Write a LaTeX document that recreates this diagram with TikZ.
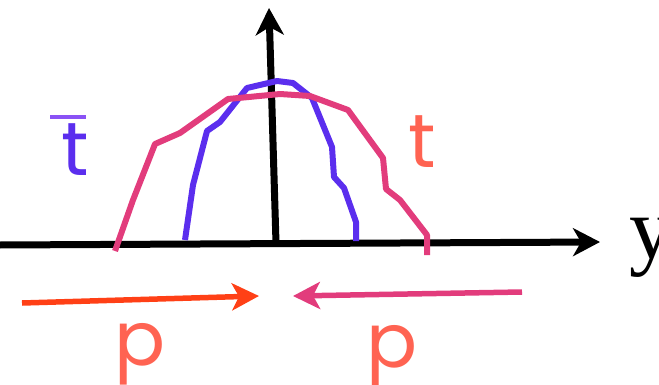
\documentclass[tikz,border=0pt]{standalone}
\usepackage{fontspec}
\setmainfont{Liberation Serif}
\newfontfamily\labelfont{Poppins}
\usetikzlibrary{arrows.meta}

\definecolor{tbarblue}{HTML}{5B2EEE}
\definecolor{tbarlight}{HTML}{8A52F5}
\definecolor{tpink}{HTML}{E23C7C}
\definecolor{tcoral}{HTML}{FF6352}
\definecolor{pred}{HTML}{FF4016}

\begin{document}
\begin{tikzpicture}[
  x=0.02cm, y=-0.02cm,
  axis/.style={line width=0.14cm, -{Stealth[length=0.54cm, width=0.56cm, inset=0.16cm]}},
  curve/.style={line width=0.12cm, line join=round},
  mom/.style={line width=0.11cm, -{Stealth[length=0.54cm, width=0.54cm, inset=0.14cm]}},
  lbl/.style={font=\labelfont\fontsize{43}{50}\selectfont, inner sep=0pt, anchor=base}
]
  \useasboundingbox (0,0) rectangle (659,385);

  % axes
  \coordinate (yleft)  at (0,245);
  \coordinate (yright) at (600,242);
  \coordinate (origin) at (276,243);
  \coordinate (top)    at (269,8);
  \draw[axis] (yleft) -- (yright);
  \draw[axis] (origin) -- (top);
  \node[anchor=base west, inner sep=0pt, font=\fontsize{50}{60}\selectfont] (ylabel) at (629,258) {y};

  % distributions
  \draw[curve, tbarblue] plot coordinates {(185,240) (193,185) (207,131) (220,122) (247,88) (277,81) (293,83) (312,98) (332,147) (334,177) (344,188) (356,222) (356,241)};
  \draw[curve, tpink] plot coordinates {(115,251) (133,200) (155,144) (180,133) (228,99) (280,94) (310,96) (348,110) (383,158) (386,189) (400,200) (427,235) (427,255)};

  \node[lbl, text=tbarblue] (tbar) at (75,175) {t};
  \draw[line width=0.1cm, tbarlight] (50,117) -- (86,117);
  \node[lbl, text=tcoral] (tlabel) at (422,167) {t};

  % incoming momenta
  \coordinate (leftstart)  at (22,303);
  \coordinate (leftend)    at (259,296);
  \coordinate (rightstart) at (522,292);
  \coordinate (rightend)   at (293,296);
  \draw[mom, pred] (leftstart) -- (leftend);
  \draw[mom, tpink] (rightstart) -- (rightend);
  \node[lbl, text=tcoral] (pleft)  at (140,365) {p};
  \node[lbl, text=tcoral] (pright) at (392,367) {p};
\end{tikzpicture}
\end{document}
